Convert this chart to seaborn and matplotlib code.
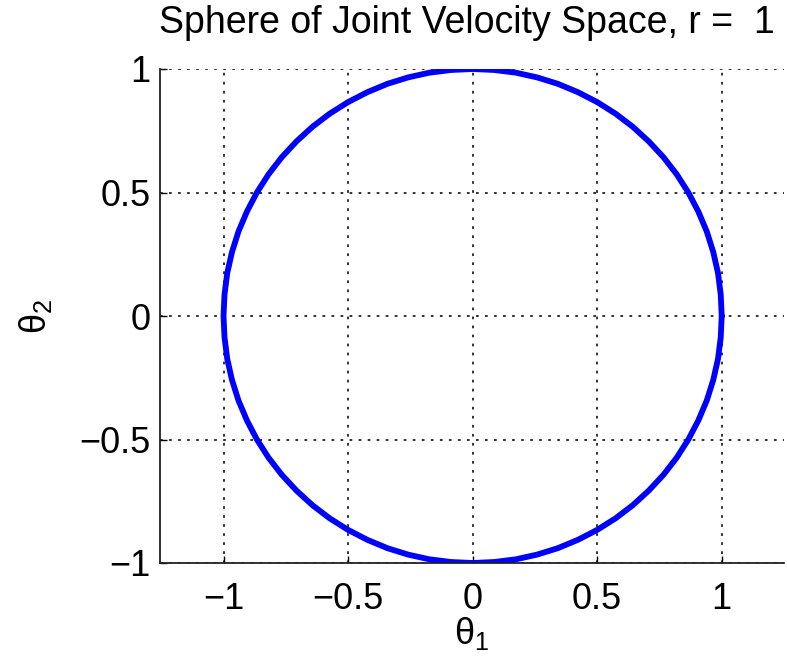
import matplotlib
matplotlib.use("Agg")
import matplotlib.pyplot as plt
import seaborn as sns
import pandas as pd

# circle vertices (5 degree steps, counter-clockwise from (1, 0))
theta1 = [1.0, 0.996, 0.985, 0.966, 0.94, 0.906, 0.866, 0.819, 0.766, 0.707,
          0.643, 0.574, 0.5, 0.423, 0.342, 0.259, 0.174, 0.087, 0.0,
          -0.087, -0.174, -0.259, -0.342, -0.423, -0.5, -0.574, -0.643, -0.707,
          -0.766, -0.819, -0.866, -0.906, -0.94, -0.966, -0.985, -0.996, -1.0,
          -0.996, -0.985, -0.966, -0.94, -0.906, -0.866, -0.819, -0.766, -0.707,
          -0.643, -0.574, -0.5, -0.423, -0.342, -0.259, -0.174, -0.087, 0.0,
          0.087, 0.174, 0.259, 0.342, 0.423, 0.5, 0.574, 0.643, 0.707,
          0.766, 0.819, 0.866, 0.906, 0.94, 0.966, 0.985, 0.996, 1.0]
theta2 = [0.0, 0.087, 0.174, 0.259, 0.342, 0.423, 0.5, 0.574, 0.643, 0.707,
          0.766, 0.819, 0.866, 0.906, 0.94, 0.966, 0.985, 0.996, 1.0,
          0.996, 0.985, 0.966, 0.94, 0.906, 0.866, 0.819, 0.766, 0.707,
          0.643, 0.574, 0.5, 0.423, 0.342, 0.259, 0.174, 0.087, 0.0,
          -0.087, -0.174, -0.259, -0.342, -0.423, -0.5, -0.574, -0.643, -0.707,
          -0.766, -0.819, -0.866, -0.906, -0.94, -0.966, -0.985, -0.996, -1.0,
          -0.996, -0.985, -0.966, -0.94, -0.906, -0.866, -0.819, -0.766, -0.707,
          -0.643, -0.574, -0.5, -0.423, -0.342, -0.259, -0.174, -0.087, 0.0]
ticks = [-1, -0.5, 0, 0.5, 1]
tick_labels = ["\u22121", "\u22120.5", "0", "0.5", "1"]
title = "Sphere of Joint Velocity Space, r =  1"

df = pd.DataFrame({"t1": theta1, "t2": theta2})

sns.set_style("white")
plt.rcParams["font.family"] = ["Liberation Sans", "DejaVu Sans"]
plt.rcParams["text.color"] = "black"
plt.rcParams["axes.labelcolor"] = "black"

fig = plt.figure(figsize=(7.87, 6.63), dpi=100)
ax = fig.add_axes([160 / 787, 100 / 663, 624 / 787, 494 / 663])

sns.lineplot(data=df, x="t1", y="t2", sort=False, estimator=None,
             color="#0000ff", linewidth=4.2, ax=ax)

ax.set_xlim(-1.255, 1.25)
ax.set_ylim(-1, 1)
ax.set_xticks(ticks)
ax.set_xticklabels(tick_labels)
ax.set_yticks(ticks)
ax.set_yticklabels(tick_labels)
ax.tick_params(direction="in", length=5, width=1, colors="black",
               labelsize=26, bottom=True, left=True)
ax.tick_params(axis="x", pad=14)
ax.tick_params(axis="y", pad=7)
ax.grid(True, color="#222222", linestyle=(0, (1.5, 3.5)), linewidth=1.3)
for s in ["top", "right"]:
    ax.spines[s].set_visible(False)
for s in ["left", "bottom"]:
    ax.spines[s].set_color("#222222")
    ax.spines[s].set_linewidth(1.3)

ax.set_xlabel(r"$\mathregular{\theta_1}$", fontsize=26, labelpad=-2)
ax.set_ylabel(r"$\mathregular{\theta_2}$", fontsize=26, labelpad=18)
fig.text(467 / 787, 1 - 33 / 663, title, fontsize=27, ha="center",
         va="baseline")

fig.savefig("out.png", dpi=100)
